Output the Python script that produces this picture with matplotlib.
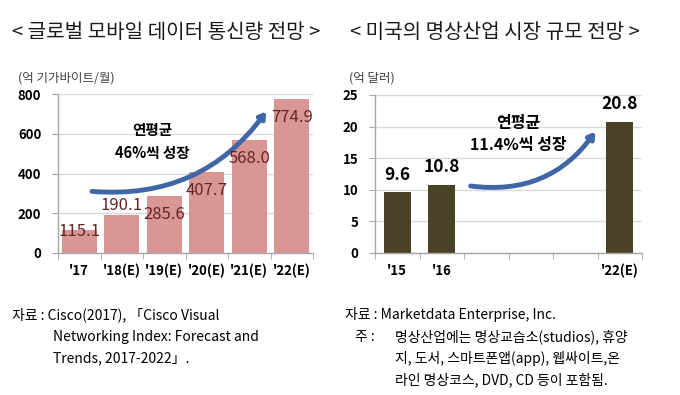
import numpy as np
import matplotlib
matplotlib.use("Agg")
import matplotlib.pyplot as plt

plt.rcParams['font.family'] = ['Noto Sans CJK KR', 'DejaVu Sans']

# ---- data ----
left_title = "< 글로벌 모바일 데이터 통신량 전망 >"
left_unit = "(억 기가바이트/월)"
left_cats = ["'17", "'18(E)", "'19(E)", "'20(E)", "'21(E)", "'22(E)"]
left_vals = [115.1, 190.1, 285.6, 407.7, 568.0, 774.9]
left_yticks = [0, 200, 400, 600, 800]
left_note1 = "연평균"
left_note2 = "46%씩 성장"

right_title = "< 미국의 명상산업 시장 규모 전망 >"
right_unit = "(억 달러)"
right_cats = ["'15", "'16", "", "", "", "'22(E)"]
right_vals = [9.6, 10.8, np.nan, np.nan, np.nan, 20.8]
right_yticks = [0, 5, 10, 15, 20, 25]
right_note1 = "연평균"
right_note2 = "11.4%씩 성장"

src_left = ["자료 : Cisco(2017), 「Cisco Visual",
            "Networking Index: Forecast and",
            "Trends, 2017-2022」."]
src_right_1 = "자료 : Marketdata Enterprise, Inc."
src_right_2 = ["명상산업에는 명상교습소(studios), 휴양",
               "지, 도서, 스마트폰앱(app), 웹싸이트,온",
               "라인 명상코스, DVD, CD 등이 포함됨."]

# ---- style ----
LBAR = '#D99694'
LLAB = '#632523'
RBAR = '#4A4227'
ARROW = '#3F67A5'
GRID = '#D9D9D9'
SPINE = '#A6A6A6'

fig = plt.figure(figsize=(6.8, 3.95), dpi=100)

def style_axes(ax, ncat, yticks):
    ax.set_xlim(-0.5, ncat - 0.5)
    ax.set_ylim(yticks[0], yticks[-1])
    ax.set_yticks(yticks)
    ax.yaxis.grid(True, color=GRID, linewidth=1)
    ax.set_axisbelow(True)
    for s in ['top', 'right']:
        ax.spines[s].set_visible(False)
    for s in ['left', 'bottom']:
        ax.spines[s].set_color(SPINE)
        ax.spines[s].set_linewidth(1)
    ax.tick_params(axis='y', length=4, color=SPINE, pad=8, labelsize=9.5)
    ax.set_xticks(np.arange(ncat))
    ax.set_xticks(np.arange(ncat + 1) - 0.5, minor=True)
    ax.tick_params(axis='x', which='major', length=0, pad=8, labelsize=9.5)
    ax.tick_params(axis='x', which='minor', length=4, color=SPINE)
    for lab in ax.get_yticklabels() + ax.get_xticklabels():
        lab.set_fontweight('bold')

arrow_props = dict(arrowstyle='-|>,head_length=0.35,head_width=0.22',
                   color=ARROW, lw=3.5, shrinkA=0, shrinkB=0)

# Left chart
axl = fig.add_axes([58/680, 1-253/395, (313-58)/680, (253-94)/395])
xl = np.arange(len(left_cats))
axl.bar(xl, left_vals, width=0.82, color=LBAR, zorder=2)
axl.set_xticks(xl)
axl.set_xticklabels(left_cats)
style_axes(axl, len(left_cats), left_yticks)
label_offsets = [-1, 7, -13, -13, -13, -13]  # points
for x, v, off in zip(xl, left_vals, label_offsets):
    axl.annotate(f"{v:.1f}", (x, v), xytext=(0, off), textcoords='offset points',
                 ha='center', va='center', fontsize=12, color=LLAB, zorder=4)
axl.annotate('', xy=(4.4, 712), xytext=(0.3, 310),
             arrowprops=dict(connectionstyle='arc3,rad=0.28', **arrow_props), zorder=3)
axl.text(1.72, 617, left_note1, ha='center', va='center', fontsize=10.5, fontweight='bold')
axl.text(1.72, 505, left_note2, ha='center', va='center', fontsize=10.5, fontweight='bold')

# Right chart
axr = fig.add_axes([375/680, 1-253/395, (642-375)/680, (253-95)/395])
xr = np.arange(len(right_cats))
axr.bar(xr, right_vals, width=0.6, color=RBAR, zorder=2)
axr.set_xticks(xr)
axr.set_xticklabels(right_cats)
style_axes(axr, len(right_cats), right_yticks)
for x, v in zip(xr, right_vals):
    if np.isfinite(v):
        axr.annotate(f"{v:.1f}", (x, v), xytext=(0, 6), textcoords='offset points',
                     ha='center', va='bottom', fontsize=12.5, fontweight='bold', color='black')
axr.annotate('', xy=(4.45, 19.2), xytext=(1.65, 10.6),
             arrowprops=dict(connectionstyle='arc3,rad=0.3', **arrow_props), zorder=3)
axr.text(2.72, 20.6, right_note1, ha='center', va='center', fontsize=11.5, fontweight='bold')
axr.text(2.72, 17.1, right_note2, ha='center', va='center', fontsize=11.5, fontweight='bold')

# Titles & units
fig.text(12/680, 1-32/395, left_title, ha='left', va='center', fontsize=14.5, color='#1a1a1a')
fig.text(350/680, 1-32/395, right_title, ha='left', va='center', fontsize=14.5, color='#1a1a1a')
fig.text(18/680, 1-78/395, left_unit, ha='left', va='center', fontsize=9, color='#404040')
fig.text(349/680, 1-78/395, right_unit, ha='left', va='center', fontsize=9, color='#404040')

# Sources
ys = [315, 337, 358, 380]
fig.text(12/680, 1-ys[0]/395, src_left[0], ha='left', va='center', fontsize=10)
for i in (1, 2):
    fig.text(53/680, 1-ys[i]/395, src_left[i], ha='left', va='center', fontsize=10)
fig.text(345/680, 1-ys[0]/395, src_right_1, ha='left', va='center', fontsize=10)
fig.text(355/680, 1-ys[1]/395, "주 :", ha='left', va='center', fontsize=10)
for i, line in enumerate(src_right_2):
    fig.text(395/680, 1-ys[i+1]/395, line, ha='left', va='center', fontsize=10)

fig.savefig('out.png', dpi=100)
